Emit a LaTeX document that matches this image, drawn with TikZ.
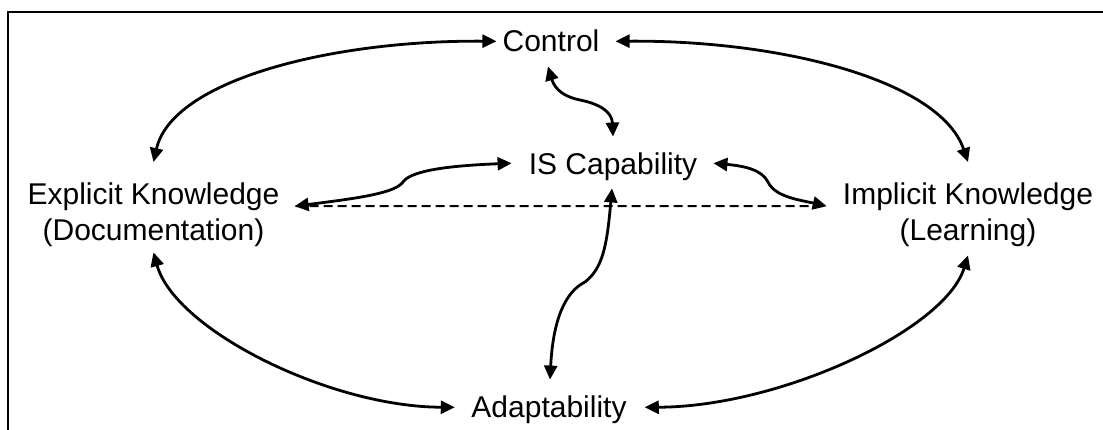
\documentclass[tikz,border=0pt]{standalone}
\usepackage{fontspec}
\setmainfont{Liberation Sans}
\usetikzlibrary{arrows.meta}
\begin{document}
\begin{tikzpicture}[x=1pt,y=-1pt,
  lbl/.style={inner sep=0pt, font=\fontsize{30}{36}\selectfont},
  link/.style={line width=2.8pt, {Triangle[length=14pt,width=13pt]}-{Triangle[length=14pt,width=13pt]}},
  guide/.style={line width=2pt, dash pattern=on 9pt off 5pt},
  frame/.style={line width=1.8pt}
  ]
\useasboundingbox (0,0) rectangle (1103,430);
% open frame: top and left edges only
\draw[frame] (8.2,430) -- (8.2,11.8) -- (1103,11.8);

% labels
\node[lbl, anchor=base] (ctl) at (551,52) {Control};
\node[lbl, anchor=base] (cap) at (613,175) {IS Capability};
\node[lbl, anchor=base] (ada) at (549,417) {Adaptability};
\node[lbl, align=center, anchor=north] (exp) at (153.5,183) {Explicit Knowledge\\(Documentation)};
\node[lbl, align=center, anchor=north] (imp) at (968,183) {Implicit Knowledge\\(Learning)};

% dashed baseline between the two knowledge types
\draw[guide] ([shift={(16pt,9pt)}]exp.east) -- ([shift={(-18pt,9pt)}]imp.west);

% outer ring
\draw[link] ([yshift=21pt]exp.north) .. controls (172,80) and (332,40) .. ([xshift=-6pt]ctl.west);
\draw[link] ([xshift=16pt]ctl.east) .. controls (780,40) and (940,80) .. ([yshift=21pt]imp.north);
\draw[link] ([yshift=-5pt]exp.south) .. controls (175,330) and (330,407) .. ([shift={(-16.5pt,2pt)}]ada.west);
\draw[link] ([shift={(18pt,2pt)}]ada.east) .. controls (780,407) and (945,330) .. ([yshift=-8pt]imp.south);

% spokes to IS Capability
\draw[link] ([shift={(-3pt,-14pt)}]ctl.south) .. controls (555,90) and (565,97) .. (580,100)
  .. controls (600,104) and (612,112) .. ([yshift=16.5pt]cap.north);
\draw[link] ([shift={(15pt,9pt)}]exp.east) .. controls (360,198) and (395,193) .. (403,182)
  .. controls (410,172) and (440,166) .. ([shift={(-17pt,4pt)}]cap.west);
\draw[link] ([shift={(16pt,4pt)}]cap.east) .. controls (745,166) and (762,170) .. (768,182)
  .. controls (775,197) and (800,200) .. ([shift={(-16pt,9pt)}]imp.west);
\draw[link] ([shift={(-1pt,-7pt)}]cap.south) .. controls (607,245) and (603,268) .. (585,282)
  .. controls (565,292) and (553,320) .. ([shift={(1pt,15.5pt)}]ada.north);
\end{tikzpicture}
\end{document}
